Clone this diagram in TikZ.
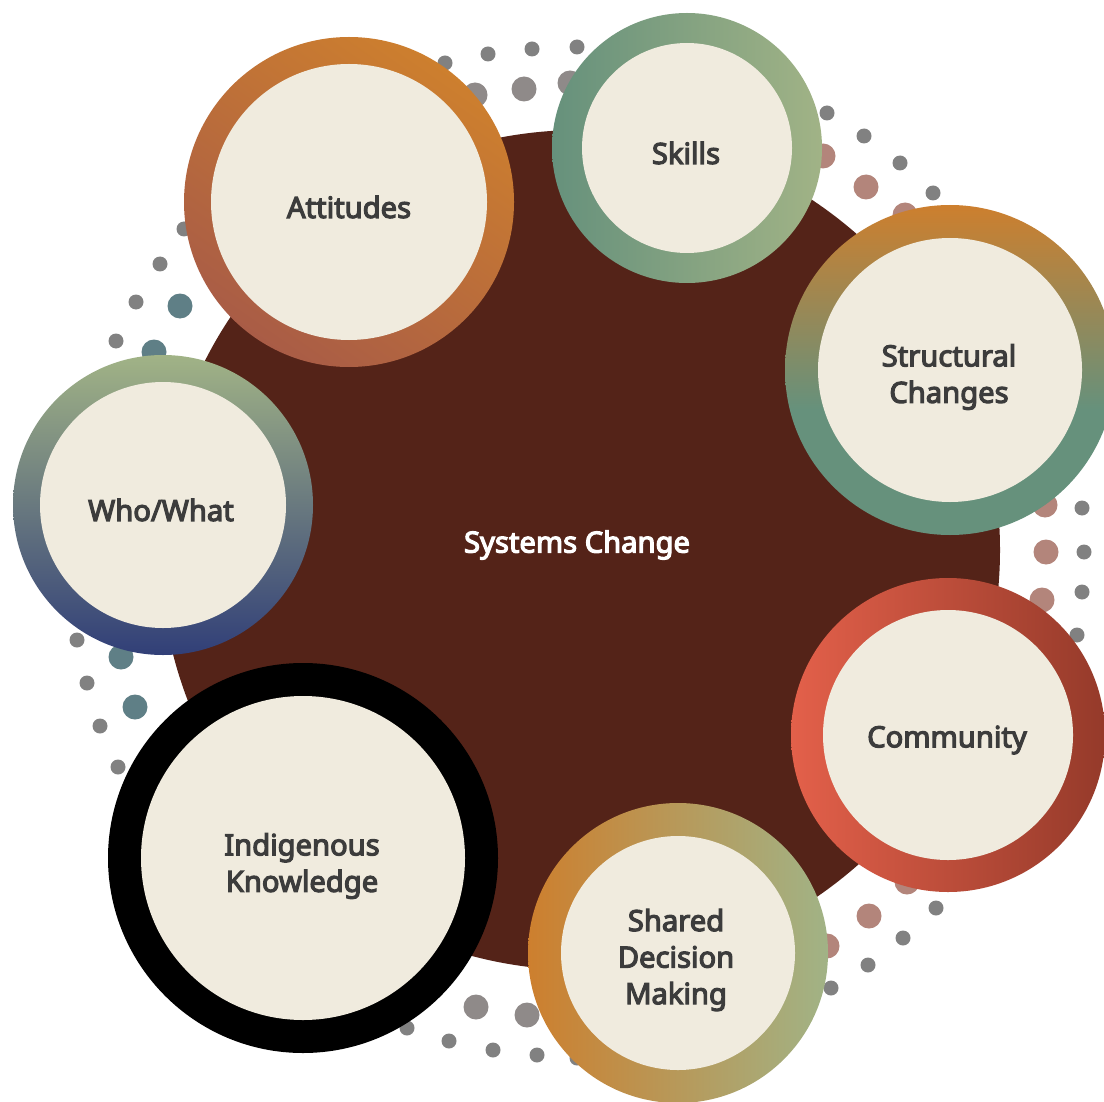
\documentclass[tikz,border=0pt]{standalone}
\usepackage{fontspec}
\setsansfont{Noto Sans}[BoldFont={Noto Sans}, BoldFeatures={FakeBold=4}]
\usetikzlibrary{positioning}

% 配色
\definecolor{coreBrown}{HTML}{542318}
\definecolor{cream}{HTML}{F0EBDE}
\definecolor{txtGray}{HTML}{3C3C3C}
\definecolor{dotGray}{HTML}{818181}
\definecolor{dotWarm}{HTML}{8F8A89}
\definecolor{dotRose}{HTML}{B3857B}
\definecolor{dotTeal}{HTML}{5F7F86}
\definecolor{ochre}{HTML}{CD7F2E}
\definecolor{rust}{HTML}{A95C46}
\definecolor{seaGreen}{HTML}{66917C}
\definecolor{sage}{HTML}{A1B386}
\definecolor{navy}{HTML}{313F78}
\definecolor{slate}{HTML}{7C8391}
\definecolor{coral}{HTML}{E3604A}
\definecolor{brick}{HTML}{953A2A}

% Structural 圆环:上半段橙到青,下半段纯青
\pgfdeclareverticalshading{strShade}{100bp}{%
  color(0bp)=(seaGreen); color(25bp)=(seaGreen); color(44bp)=(seaGreen);
  color(75bp)=(ochre); color(100bp)=(ochre)}

\begin{document}
\begin{tikzpicture}[
    x=0.02cm, y=0.02cm,
    font=\sffamily\bfseries,
    % --- 样式定义 ---
    % 中心大圆
    core/.style={fill=coreBrown},
    % 小圆内部:米色
    disc/.style={fill=cream},
    % 文字
    ctext/.style={text=txtGray, align=center, font=\sffamily\bfseries\fontsize{16.6}{20.8}\selectfont},
    % 渐变圆环
    attRing/.style={top color=ochre, bottom color=rust, shading angle=-35},
    skiRing/.style={left color=seaGreen, right color=sage},
    strRing/.style={shading=strShade},
    whoRing/.style={top color=sage, middle color=slate, bottom color=navy},
    indRing/.style={fill=black},
    comRing/.style={left color=coral, right color=brick},
    shaRing/.style={left color=ochre, right color=sage}
]
\useasboundingbox (0,0) rectangle (1104,-1101);
\clip (0,0) rectangle (1104,-1101);

% ==================== 1. 中心大圆 ====================
\coordinate (core) at (580,-550);
\fill[core] (core) circle (420);

% ==================== 2. 点缀圆点 ====================
% 小灰点
\foreach \x/\y in {445/63, 488/54, 532/49, 577/47,
                   827/113, 864/136, 900/163, 933/193,
                   1082/508, 1084/552, 1082/592, 1077/635,
                   184/229, 160/264, 136/302, 116/341,
                   77/640, 87/683, 100/726, 118/767,
                   407/1028, 449/1041, 493/1050, 537/1055, 577/1058,
                   936/908, 903/938, 868/965, 831/988}
    \fill[dotGray] (\x,-\y) circle (7.5);
% 大圆点
\foreach \x/\y in {475/95, 524/89, 570/83, 476/1007, 527/1015}
    \fill[dotWarm] (\x,-\y) circle (12.5);
\foreach \x/\y in {823/156, 866/187, 905/215, 1045/505, 1046/552, 1042/600,
                   907/882, 869/916, 827/946}
    \fill[dotRose] (\x,-\y) circle (12.5);
\foreach \x/\y in {180/306, 154/352, 121/657, 135/707}
    \fill[dotTeal] (\x,-\y) circle (12.5);

% ==================== 3. 外围圆环 ====================
% Attitudes
\coordinate (attC) at (349,-202);
\shade[attRing] (attC) circle (165);
\fill[disc] (attC) circle (138);
\node[ctext] (att) at (349,-207) {Attitudes};

% Skills
\coordinate (skiC) at (687,-148);
\shade[skiRing] (skiC) circle (135);
\fill[disc] (skiC) circle (105);
\node[ctext] (ski) at (686,-153) {Skills};

% Structural Changes
\coordinate (strC) at (950,-370);
\shade[strRing] (strC) circle (165);
\fill[disc] (strC) circle (132);
\node[ctext] (str) at (949,-377) {Structural\\Changes};

% Who/What
\coordinate (whoC) at (163,-505);
\shade[whoRing] (whoC) circle (150);
\fill[disc] (whoC) circle (123);
\node[ctext] (who) at (161,-510) {Who/What};

% Indigenous Knowledge
\coordinate (indC) at (303,-858);
\fill[indRing] (indC) circle (195);
\fill[disc] (indC) circle (162);
\node[ctext] (ind) at (302,-866) {Indigenous\\Knowledge};

% Community
\coordinate (comC) at (948,-735);
\shade[comRing] (comC) circle (157);
\fill[disc] (comC) circle (125);
\node[ctext] (com) at (947,-740) {Community};

% Shared Decision Making
\coordinate (shaC) at (678,-953);
\shade[shaRing] (shaC) circle (150);
\fill[disc] (shaC) circle (117);
\node[ctext] (sha) at (676,-960) {Shared\\Decision\\Making};

% ==================== 4. 中心文字 ====================
\node[ctext, text=white] (sys) at (577,-545) {Systems Change};

\end{tikzpicture}
\end{document}
